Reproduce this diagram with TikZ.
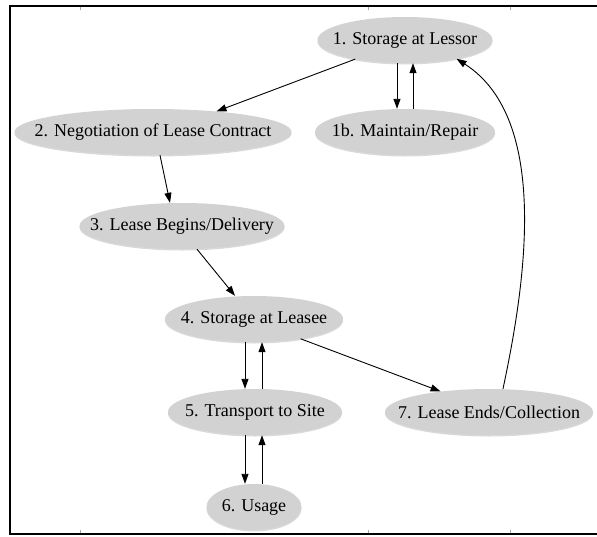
\documentclass[tikz,border=0pt]{standalone}
\usepackage{fontspec}
\setmainfont{Liberation Serif}
\usetikzlibrary{shapes.geometric,arrows.meta,shadows}
\newcommand{\zlab}[1]{\makebox[0pt]{#1}}
\begin{document}
\begin{tikzpicture}[x=1pt,y=-1pt,
  state/.style={ellipse,fill=gray!35,inner sep=0pt,minimum height=46pt,
    font=\fontsize{18}{21}\selectfont,
    drop shadow={shadow xshift=0pt,shadow yshift=-1.5pt,opacity=0.3,fill=gray}},
  arr/.style={-{Triangle[length=10pt,width=7pt]},line width=0.9pt,black},
  frame/.style={line width=1.6pt,black},
  tick/.style={gray!70,line width=0.5pt}]
\useasboundingbox (0,0) rectangle (597,536);
\draw[frame] (597,6) -- (10,6) -- (10,534) -- (597,534);
\foreach \tx in {80,368,510}{
  \draw[tick] (\tx,7) -- (\tx,10);
  \draw[tick] (\tx,533) -- (\tx,530);
}
\node[state,minimum width=175pt] (n1) at (405,40) {\zlab{1. Storage at Lessor}};
\node[state,minimum width=180pt] (n1b) at (405,132) {\zlab{1b. Maintain/Repair}};
\node[state,minimum width=277pt] (n2) at (153,132) {\zlab{2. Negotiation of Lease Contract}};
\node[state,minimum width=205pt] (n3) at (182,226) {\zlab{3. Lease Begins/Delivery}};
\node[state,minimum width=178pt] (n4) at (254,319) {\zlab{4. Storage at Leasee}};
\node[state,minimum width=174pt] (n5) at (255,412) {\zlab{5. Transport to Site}};
\node[state,minimum width=208pt] (n7) at (489,412) {\zlab{7. Lease Ends/Collection}};
\node[state,minimum width=95pt] (n6) at (254,507) {\zlab{6. Usage}};

\draw[arr] (n1.-159) -- (n2.18);
\draw[arr] ([xshift=-8pt]n1.south) -- ([xshift=-8pt]n1b.north);
\draw[arr] ([xshift=8pt]n1b.north) -- ([xshift=8pt]n1.south);
\draw[arr] ([xshift=7pt]n2.south) -- ([xshift=-12pt]n3.north);
\draw[arr] ([xshift=15pt]n3.south) -- ([xshift=-19pt]n4.north);
\draw[arr] ([xshift=-9pt]n4.south) -- ([xshift=-10pt]n5.north);
\draw[arr] ([xshift=7pt]n5.north) -- ([xshift=8pt]n4.south);
\draw[arr] (n4.-23) -- (n7.157);
\draw[arr] ([xshift=-10pt]n5.south) -- ([xshift=-9pt]n6.north);
\draw[arr] ([xshift=8pt]n6.north) -- ([xshift=7pt]n5.south);
\draw[arr] ([xshift=14pt]n7.north) .. controls (524,290) and (552,120) .. (n1.-20);
\end{tikzpicture}
\end{document}
